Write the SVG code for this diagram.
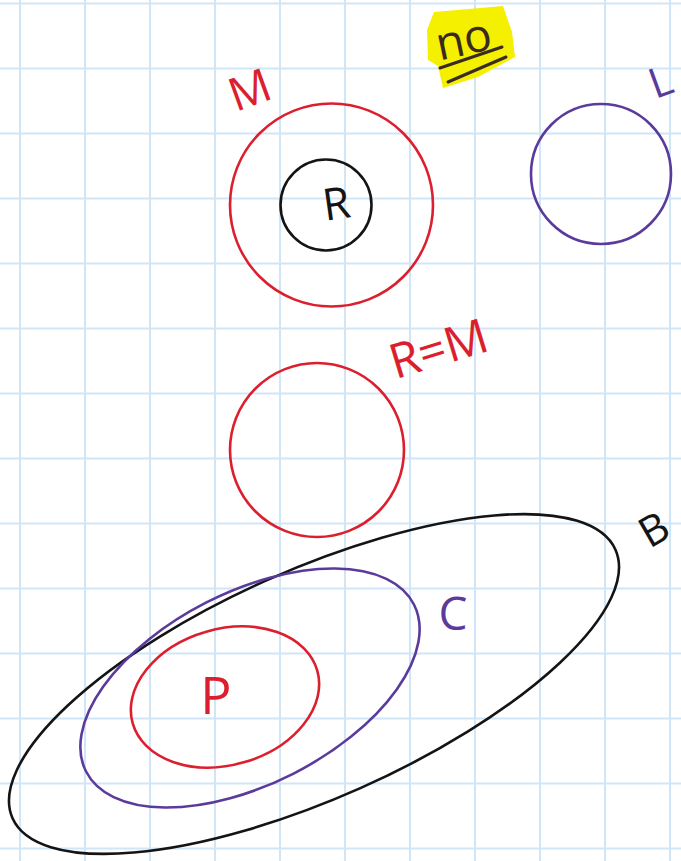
<svg xmlns="http://www.w3.org/2000/svg" width="681" height="861" viewBox="0 0 681 861">
<defs>
<style>
.grid line{stroke:#cfe6f8;stroke-width:2}
.shape{fill:none;stroke-width:2.6}
.red{stroke:#dc1f2e}
.purple{stroke:#5a3b9c}
.black{stroke:#141414}
.t{font-family:"Open Sans","Liberation Sans",sans-serif;font-weight:400;text-anchor:middle;dominant-baseline:central}
.tred{fill:#dc1f2e}
.tpurple{fill:#5a3b9c}
.tblack{fill:#141414}
</style>
</defs>
<rect width="681" height="861" fill="#ffffff"/>
<g class="grid">
<line x1="20" y1="0" x2="20" y2="861"/><line x1="85" y1="0" x2="85" y2="861"/><line x1="150" y1="0" x2="150" y2="861"/><line x1="215" y1="0" x2="215" y2="861"/><line x1="280" y1="0" x2="280" y2="861"/><line x1="345" y1="0" x2="345" y2="861"/><line x1="410" y1="0" x2="410" y2="861"/><line x1="475" y1="0" x2="475" y2="861"/><line x1="540" y1="0" x2="540" y2="861"/><line x1="605" y1="0" x2="605" y2="861"/><line x1="670" y1="0" x2="670" y2="861"/>
<line x1="0" y1="3.5" x2="681" y2="3.5"/><line x1="0" y1="68.5" x2="681" y2="68.5"/><line x1="0" y1="133.5" x2="681" y2="133.5"/><line x1="0" y1="198.5" x2="681" y2="198.5"/><line x1="0" y1="263.5" x2="681" y2="263.5"/><line x1="0" y1="328.5" x2="681" y2="328.5"/><line x1="0" y1="393.5" x2="681" y2="393.5"/><line x1="0" y1="458.5" x2="681" y2="458.5"/><line x1="0" y1="523.5" x2="681" y2="523.5"/><line x1="0" y1="588.5" x2="681" y2="588.5"/><line x1="0" y1="653.5" x2="681" y2="653.5"/><line x1="0" y1="718.5" x2="681" y2="718.5"/><line x1="0" y1="783.5" x2="681" y2="783.5"/><line x1="0" y1="848.5" x2="681" y2="848.5"/>
</g>
<g id="no-note">
<polygon points="427,30 434,12 503,6 512,32 515,57 478,77 443,88 438,66 428,60" fill="#f5ef00"/>
<text class="t" x="0" y="0" font-size="46" fill="#3a2b1f" transform="translate(463,37) rotate(-12)">no</text>
<line x1="440" y1="68" x2="502" y2="47" stroke="#3a2b1f" stroke-width="3" stroke-linecap="round"/>
<line x1="448" y1="82" x2="506" y2="57" stroke="#3a2b1f" stroke-width="3" stroke-linecap="round"/>
</g>
<g id="M">
<circle class="shape red" cx="331.5" cy="205" r="101.5"/>
<text class="t tred" x="0" y="0" font-size="46" transform="translate(249,88) rotate(-20)">M</text>
</g>
<g id="R">
<circle class="shape black" cx="326" cy="205" r="45.5"/>
<text class="t tblack" x="0" y="0" font-size="44" transform="translate(336,202) rotate(-8)">R</text>
</g>
<g id="L">
<circle class="shape purple" cx="601" cy="174" r="70"/>
<text class="t tpurple" x="0" y="0" font-size="42" transform="translate(660,80) rotate(-20)">L</text>
</g>
<g id="RM">
<circle class="shape red" cx="317" cy="450" r="87"/>
<text class="t tred" x="0" y="0" font-size="48" transform="translate(438,347) rotate(-17)">R=M</text>
</g>
<g id="B">
<ellipse class="shape black" cx="314" cy="684" rx="330" ry="114" transform="rotate(-24 314 684)"/>
<text class="t tblack" x="0" y="0" font-size="42" transform="translate(653,528) rotate(-30)">B</text>
</g>
<g id="C">
<ellipse class="shape purple" cx="250" cy="688" rx="184" ry="96" transform="rotate(-27 250 688)"/>
<text class="t tpurple" x="0" y="0" font-size="46" transform="translate(453,612)">C</text>
</g>
<g id="P">
<ellipse class="shape red" cx="225" cy="697" rx="96" ry="68" transform="rotate(-16 225 697)"/>
<text class="t tred" x="0" y="0" font-size="52" transform="translate(216,693)">P</text>
</g>
</svg>
